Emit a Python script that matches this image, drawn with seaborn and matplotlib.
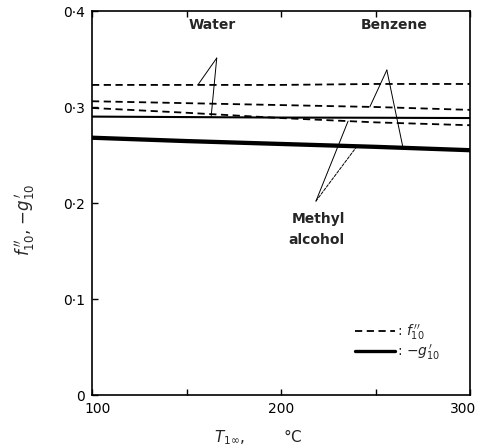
import numpy as np
import pandas as pd
import matplotlib
matplotlib.use("Agg")
import matplotlib.pyplot as plt
import matplotlib.transforms as mtransforms
from matplotlib.lines import Line2D
import seaborn as sns

# ---- data ----
T = [100, 150, 200, 250, 300]
water_f = [0.323, 0.323, 0.323, 0.324, 0.324]
benzene_f = [0.306, 0.304, 0.302, 0.300, 0.297]
methyl_f = [0.299, 0.294, 0.2885, 0.284, 0.281]
water_g = [0.290, 0.2895, 0.289, 0.2888, 0.2885]
benzene_g = [0.2685, 0.265, 0.262, 0.259, 0.2555]
methyl_g = [0.2675, 0.264, 0.261, 0.258, 0.2545]

ytick_vals = [0, 0.1, 0.2, 0.3, 0.4]
ytick_labels = ["0", "0·1", "0·2", "0·3", "0·4"]
xtick_vals = [100, 150, 200, 250, 300]
xtick_labels = ["100", "", "200", "", "300"]

sns.set_style("white")
plt.rcParams["font.family"] = ["DejaVu Sans"]
plt.rcParams["mathtext.fontset"] = "dejavusans"

fig = plt.figure(figsize=(4.8, 4.48), dpi=100)
ax = fig.add_axes([92 / 480, 53 / 448, 378 / 480, 384 / 448])

dash = (0, (4, 2.5))
series = [
    (water_f, dash, 1.3),
    (benzene_f, dash, 1.3),
    (methyl_f, dash, 1.3),
    (water_g, "-", 1.5),
    (benzene_g, "-", 2.4),
    (methyl_g, "-", 2.4),
]
for vals, ls, lw in series:
    sns.lineplot(x=T, y=vals, ax=ax, color="black", linestyle=ls, linewidth=lw)

ax.set_xlim(100, 300)
ax.set_ylim(0, 0.4)
ax.set_xticks(xtick_vals)
ax.set_xticklabels(xtick_labels)
ax.set_yticks(ytick_vals)
ax.set_yticklabels(ytick_labels)
ax.tick_params(direction="in", length=4, width=1.0, top=True, bottom=True,
               left=True, right=False, labelsize=10, colors="black", pad=5)
for s in ax.spines.values():
    s.set_color("black")
    s.set_linewidth(1.2)

# nudge the end x tick labels as in the reference
xl = ax.get_xticklabels()
xl[0].set_transform(xl[0].get_transform() +
                    mtransforms.ScaledTranslation(6 / 100, 0, fig.dpi_scale_trans))
xl[-1].set_transform(xl[-1].get_transform() +
                     mtransforms.ScaledTranslation(-7 / 100, 0, fig.dpi_scale_trans))

ax.set_xlabel(r"$T_{1\infty}$,        °C", fontsize=11, labelpad=4)
ax.xaxis.set_label_coords(0.44, -0.085)
ax.set_ylabel(r"$f^{\,\prime\prime}_{10}$, $-g^{\,\prime}_{10}$", fontsize=12)
ax.yaxis.set_label_coords(-0.145, 0.456)

# ---- labels with leader lines ----
def ann(target_T, series_vals, apex, style="-"):
    yv = np.interp(target_T, T, series_vals)
    ax.annotate("", xy=(target_T, yv), xytext=apex,
                arrowprops=dict(arrowstyle="-", color="black", lw=0.7,
                                linestyle=style, shrinkA=0, shrinkB=0))

ax.text(163.5, 0.385, "Water", ha="center", va="center", fontsize=10,
        fontweight="bold")
ann(156, water_f, (166, 0.351))
ann(163, water_g, (166, 0.351))

ax.text(260, 0.385, "Benzene", ha="center", va="center", fontsize=10,
        fontweight="bold")
ann(247, benzene_f, (256, 0.3385))
ann(264.5, benzene_g, (256, 0.3385))

ax.text(220, 0.183, "Methyl", ha="center", va="center", fontsize=10,
        fontweight="bold")
ax.text(219, 0.161, "alcohol", ha="center", va="center", fontsize=10,
        fontweight="bold")
ann(235.5, methyl_f, (218.5, 0.202))
ann(240, methyl_g, (218.5, 0.202), style=(0, (3, 1.5)))

handles = [Line2D([], [], color="black", linestyle=dash, lw=1.3),
           Line2D([], [], color="black", linestyle="-", lw=2.4)]
labels = [r": $f^{\,\prime\prime}_{10}$", r": $-g^{\,\prime}_{10}$"]
ax.legend(handles, labels, frameon=False, loc="center left",
          bbox_to_anchor=(0.696, 0.137), handlelength=2.9, handletextpad=0.1,
          labelspacing=0.1, fontsize=10, borderpad=0, borderaxespad=0)

fig.savefig("out.png", dpi=100)
